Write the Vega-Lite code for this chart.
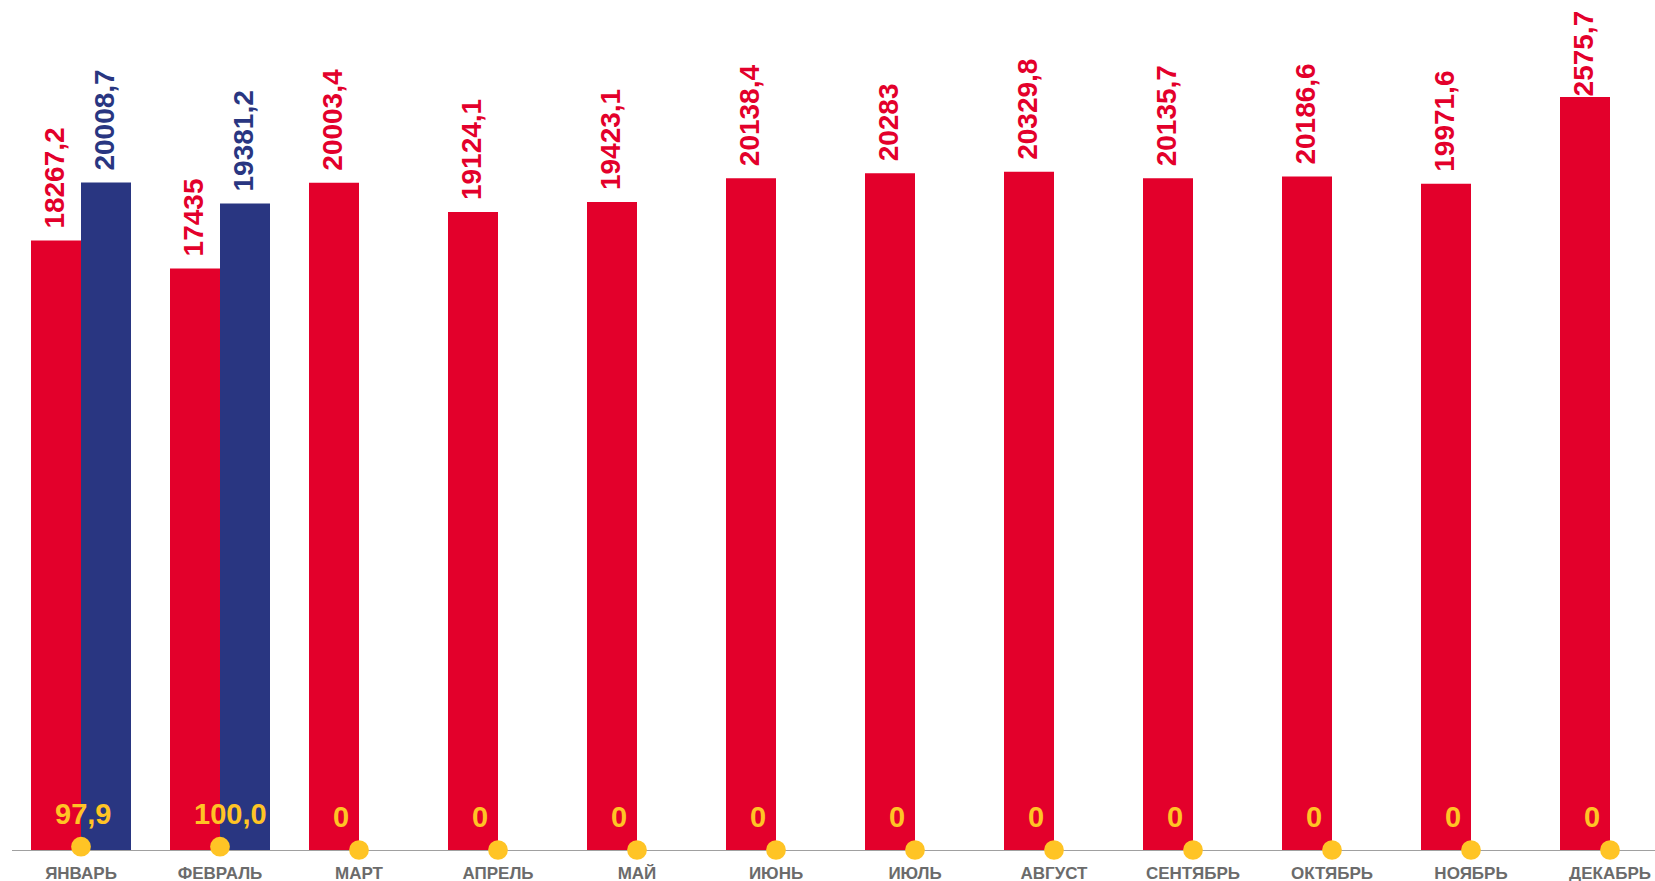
{
  "$schema": "https://vega.github.io/schema/vega-lite/v6.json",
  "width": 1655,
  "height": 850,
  "autosize": {"type": "none"},
  "padding": {"left": 0, "top": 0, "right": 0, "bottom": 31},
  "background": "white",
  "config": {
    "view": {"stroke": null},
    "font": "Liberation Sans",
    "locale": {"number": {"decimal": ",", "thousands": "\u00a0", "grouping": [3], "currency": ["", ""]}}
  },
  "datasets": {
    "bars": [
      {"month": "ЯНВАРЬ", "series": "2024", "value": 18267.2},
      {"month": "ЯНВАРЬ", "series": "2025", "value": 20008.7},
      {"month": "ФЕВРАЛЬ", "series": "2024", "value": 17435},
      {"month": "ФЕВРАЛЬ", "series": "2025", "value": 19381.2},
      {"month": "МАРТ", "series": "2024", "value": 20003.4},
      {"month": "АПРЕЛЬ", "series": "2024", "value": 19124.1},
      {"month": "МАЙ", "series": "2024", "value": 19423.1},
      {"month": "ИЮНЬ", "series": "2024", "value": 20138.4},
      {"month": "ИЮЛЬ", "series": "2024", "value": 20283},
      {"month": "АВГУСТ", "series": "2024", "value": 20329.8},
      {"month": "СЕНТЯБРЬ", "series": "2024", "value": 20135.7},
      {"month": "ОКТЯБРЬ", "series": "2024", "value": 20186.6},
      {"month": "НОЯБРЬ", "series": "2024", "value": 19971.6},
      {"month": "ДЕКАБРЬ", "series": "2024", "value": 22575.7}
    ],
    "pct": [
      {"month": "ЯНВАРЬ", "pct": 97.9, "pct_label": "97,9"},
      {"month": "ФЕВРАЛЬ", "pct": 100.0, "pct_label": "100,0"},
      {"month": "МАРТ", "pct": 0, "pct_label": "0"},
      {"month": "АПРЕЛЬ", "pct": 0, "pct_label": "0"},
      {"month": "МАЙ", "pct": 0, "pct_label": "0"},
      {"month": "ИЮНЬ", "pct": 0, "pct_label": "0"},
      {"month": "ИЮЛЬ", "pct": 0, "pct_label": "0"},
      {"month": "АВГУСТ", "pct": 0, "pct_label": "0"},
      {"month": "СЕНТЯБРЬ", "pct": 0, "pct_label": "0"},
      {"month": "ОКТЯБРЬ", "pct": 0, "pct_label": "0"},
      {"month": "НОЯБРЬ", "pct": 0, "pct_label": "0"},
      {"month": "ДЕКАБРЬ", "pct": 0, "pct_label": "0"}
    ]
  },
  "encoding": {
    "x": {
      "field": "month",
      "type": "nominal",
      "scale": {
        "domain": ["ЯНВАРЬ", "ФЕВРАЛЬ", "МАРТ", "АПРЕЛЬ", "МАЙ", "ИЮНЬ", "ИЮЛЬ", "АВГУСТ", "СЕНТЯБРЬ", "ОКТЯБРЬ", "НОЯБРЬ", "ДЕКАБРЬ"],
        "range": [11.5, 1679.5],
        "paddingInner": 0.2806,
        "paddingOuter": 0.1403
      },
      "axis": {
        "title": null,
        "domainColor": "#A0A0A0",
        "domainWidth": 1,
        "ticks": false,
        "grid": false,
        "labelAngle": 0,
        "labelFont": "Liberation Sans",
        "labelFontSize": 17,
        "labelFontWeight": "bold",
        "labelColor": "#6B6B6B",
        "labelPadding": 15,
        "labelOverlap": false
      }
    }
  },
  "layer": [
    {
      "data": {"name": "bars"},
      "mark": {"type": "bar"},
      "encoding": {
        "xOffset": {"field": "series", "type": "nominal", "scale": {"domain": ["2024", "2025"], "paddingInner": 0, "paddingOuter": 0}},
        "y": {"field": "value", "type": "quantitative", "scale": {"domain": [0, 25480], "nice": false, "zero": true}, "axis": null},
        "color": {"field": "series", "type": "nominal", "scale": {"domain": ["2024", "2025"], "range": ["#E3002B", "#293681"]}, "legend": null}
      }
    },
    {
      "data": {"name": "bars"},
      "mark": {"type": "text", "angle": 270, "align": "left", "baseline": "middle", "dx": {"expr": "min(12, scale('y', datum.value) - 112)"}, "fontSize": 28, "fontWeight": "bold", "font": "Liberation Sans"},
      "encoding": {
        "xOffset": {"field": "series", "type": "nominal"},
        "y": {"field": "value", "type": "quantitative"},
        "color": {"field": "series", "type": "nominal"},
        "text": {"field": "value", "type": "quantitative", "format": "~f"}
      }
    },
    {
      "data": {"name": "pct"},
      "mark": {"type": "circle", "size": 390, "opacity": 1, "color": "#FFC425"},
      "encoding": {
        "y": {"field": "pct", "type": "quantitative"}
      }
    },
    {
      "data": {"name": "pct"},
      "mark": {"type": "text", "align": "left", "baseline": "alphabetic", "dx": -26, "dy": -23, "fontSize": 29, "fontWeight": "bold", "font": "Liberation Sans", "color": "#FFC425"},
      "encoding": {
        "y": {"field": "pct", "type": "quantitative"},
        "text": {"field": "pct_label", "type": "nominal"}
      }
    }
  ]
}
